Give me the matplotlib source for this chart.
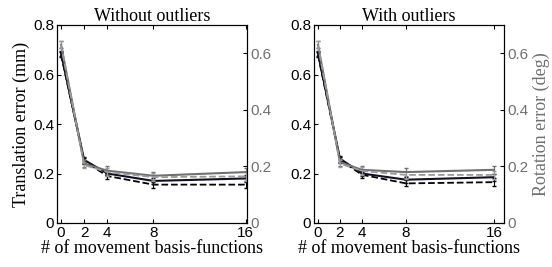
import matplotlib
matplotlib.use("Agg")
import matplotlib.pyplot as plt
import numpy as np

x = [0, 2, 4, 8, 16]
titles = ["Without outliers", "With outliers"]

# Translation error (mm), left axis, black
trans_solid = [[0.685, 0.255, 0.200, 0.170, 0.180],
               [0.685, 0.260, 0.200, 0.175, 0.185]]
trans_dashed = [[0.680, 0.250, 0.190, 0.155, 0.155],
                [0.680, 0.255, 0.195, 0.160, 0.165]]
trans_err = [0.010, 0.012, 0.012, 0.012, 0.015]
# Rotation error (deg), right axis, gray
rot_solid = [[0.630, 0.210, 0.185, 0.167, 0.180],
             [0.630, 0.215, 0.188, 0.180, 0.188]]
rot_dashed = [[0.630, 0.205, 0.180, 0.162, 0.165],
              [0.630, 0.210, 0.184, 0.170, 0.170]]
rot_err = [0.012, 0.012, 0.015, 0.015, 0.015]

serif = "Liberation Serif"
sans = "Liberation Sans"
gray = "#707070"
lgray = "#9a9a9a"

fig = plt.figure(figsize=(5.52, 2.67), dpi=100)
W, H = 552, 267
boxes = [(57, 25, 190, 198), (314, 25, 190, 198)]
xlims = [(-0.35, 16.1), (-0.36, 16.9)]

for i in range(2):
    l, t, w, h = boxes[i]
    ax = fig.add_axes([l / W, 1 - (t + h) / H, w / W, h / H])
    ax2 = ax.twinx()
    ax.errorbar(x, trans_solid[i], yerr=trans_err, color="#101020", lw=1.5, capsize=1.5, elinewidth=0.8, zorder=3)
    ax.errorbar(x, trans_dashed[i], yerr=trans_err, color="black", lw=1.3, ls="--", capsize=1.5, elinewidth=0.8)
    ax2.errorbar(x, rot_solid[i], yerr=rot_err, color=gray, lw=1.5, capsize=1.5, elinewidth=0.8)
    ax2.errorbar(x, rot_dashed[i], yerr=rot_err, color=lgray, lw=1.3, ls="--", capsize=1.5, elinewidth=0.8)
    ax.set_xlim(*xlims[i])
    ax.set_ylim(0, 0.8)
    ax2.set_ylim(0, 0.7)
    ax.set_xticks(x)
    ax.set_yticks([0, 0.2, 0.4, 0.6, 0.8])
    ax.set_yticklabels(["0", "0.2", "0.4", "0.6", "0.8"])
    ax2.set_yticks([0, 0.2, 0.4, 0.6])
    ax2.set_yticklabels(["0", "0.2", "0.4", "0.6"])
    ax.tick_params(axis="both", direction="in", length=3, labelsize=11, top=True, pad=2)
    ax2.tick_params(axis="y", direction="in", length=3, labelsize=11, labelcolor=gray, color="black", pad=2.5)
    for lab in ax.get_xticklabels() + ax.get_yticklabels() + ax2.get_yticklabels():
        lab.set_family(sans)
    ax.set_title(titles[i], family=serif, fontsize=13, pad=2)
    ax.set_xlabel("# of movement basis-functions", family=serif, fontsize=13, labelpad=0)
    if i == 0:
        ax.set_ylabel("Translation error (mm)", family=serif, fontsize=13, labelpad=2)
    else:
        ax2.set_ylabel("Rotation error (deg)", family=serif, fontsize=13, color=gray, labelpad=3)

fig.savefig("out.png", dpi=100)
